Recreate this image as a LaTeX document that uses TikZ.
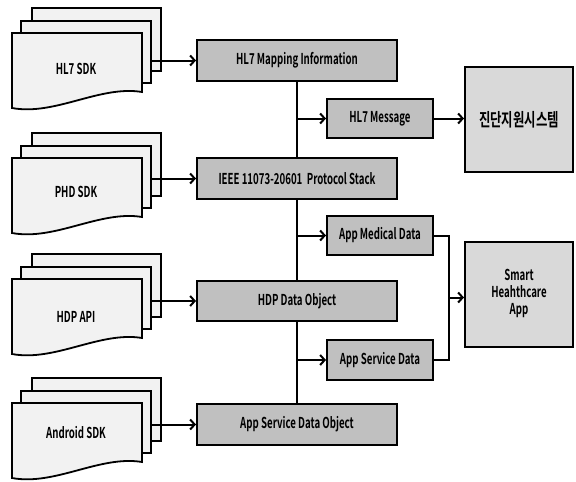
\documentclass[tikz,border=0pt]{standalone}
\usepackage{fontspec}
\usepackage{graphicx}
\setmainfont{Noto Sans CJK KR Bold}
\newfontfamily\krfont{Noto Sans CJK KR Bold}
\usetikzlibrary{arrows.meta}
\pgfdeclarelayer{background}
\pgfsetlayers{background,main}
\definecolor{boxgray}{RGB}{192,192,192}
\definecolor{lightbox}{RGB}{217,217,217}
\definecolor{pagegray}{RGB}{242,242,242}
\newcommand\sqz[1]{\scalebox{0.645}[1]{#1}}
\tikzset{
  lbl/.style={font=\fontsize{15}{17}\selectfont, inner sep=0pt},
  mainbox/.style={draw, line width=2pt, fill=boxgray, rectangle, inner sep=0pt, lbl},
  bigbox/.style={draw, line width=2pt, fill=lightbox, rectangle, inner sep=0pt, lbl},
  pagebox/.style={draw, line width=1.8pt, fill=pagegray, rectangle, inner sep=0pt},
  pageline/.style={draw, line width=1.8pt, fill=pagegray, line join=miter},
  conn/.style={line width=2pt},
  arr/.style={line width=2pt, -{Straight Barb[length=4.5pt,width=10pt]}},
}
\newcommand\docstack[4]{%
  \node[pagebox, minimum width=129, minimum height=63] (#1b) at (96.5,{#2+31.5}) {};
  \node[pagebox, minimum width=130, minimum height=62] (#1m) at (86,{#2+44}) {};
  \path[pageline] (12,{#2+25}) -- (142,{#2+25}) -- (142,{#2+84}) .. controls (100,{#2+77}) and (55,{#2+108}) .. (12,{#2+100}) -- cycle;
  \node[lbl] (#1) at (76,#4) {\sqz{#3}};
}
\begin{document}
\begin{tikzpicture}[x=1pt,y=-1pt]
\useasboundingbox (0,0) rectangle (576,482);

% document stacks
\docstack{hl7sdk}{8}{HL7 SDK}{69}
\docstack{phdsdk}{133}{PHD SDK}{192}
\docstack{hdpapi}{254}{HDP API}{317}
\docstack{andsdk}{378}{Android SDK}{433}

% main column boxes
\node[mainbox, minimum width=200, minimum height=41] (map) at (297,60.5) {\sqz{HL7 Mapping Information}};
\node[mainbox, minimum width=200, minimum height=41] (ieee) at (297,178.5) {\sqz{IEEE 11073-20601~ Protocol Stack}};
\node[mainbox, minimum width=200, minimum height=40] (hdp) at (297,301) {\sqz{HDP Data Object}};
\node[mainbox, minimum width=200, minimum height=41] (asdo) at (297,424.5) {\sqz{App Service Data Object}};

% branch boxes
\node[mainbox, minimum width=106, minimum height=39] (msg) at (380,118.5) {\sqz{HL7 Message}};
\node[mainbox, minimum width=106, minimum height=39] (amd) at (380,235.5) {\sqz{App Medical Data}};
\node[mainbox, minimum width=106, minimum height=40] (asd) at (380,360) {\sqz{App Service Data}};

% right boxes
\node[bigbox, minimum width=108, minimum height=105] (diag) at (519,119.5) {\krfont\fontsize{18}{20}\selectfont\scalebox{0.69}[1]{진단지원시스템}};
\node[bigbox, minimum width=108, minimum height=105] (smart) at (519,294.5) {\sqz{\begin{tabular}{@{}c@{}}Smart\\Heahthcare\\App\end{tabular}}};

% bus line
\begin{pgfonlayer}{background}
\draw[conn] (map.south) -- (asdo.north);
\end{pgfonlayer}

% input arrows
\draw[arr] (hl7sdkm.east |- map.west) -- (map.west);
\draw[arr] (phdsdkm.east |- ieee.west) -- (ieee.west);
\draw[arr] (hdpapim.east |- hdp.west) -- (hdp.west);
\draw[arr] (andsdkm.east |- asdo.west) -- (asdo.west);

% branches
\coordinate (b1) at (map.south |- msg.west);
\coordinate (b2) at (map.south |- amd.west);
\coordinate (b3) at (map.south |- asd.west);
\draw[arr] (b1) -- (msg.west);
\draw[arr] (b2) -- (amd.west);
\draw[arr] (b3) -- (asd.west);
\draw[arr] (msg.east) -- (msg.east -| diag.west);

% merge to smart app
\coordinate (j) at (449,297.5);
\draw[conn, line join=miter] (amd.east) -| (j |- amd.east) |- (asd.east);
\draw[arr] (j) -- (j -| smart.west);
\end{tikzpicture}
\end{document}
